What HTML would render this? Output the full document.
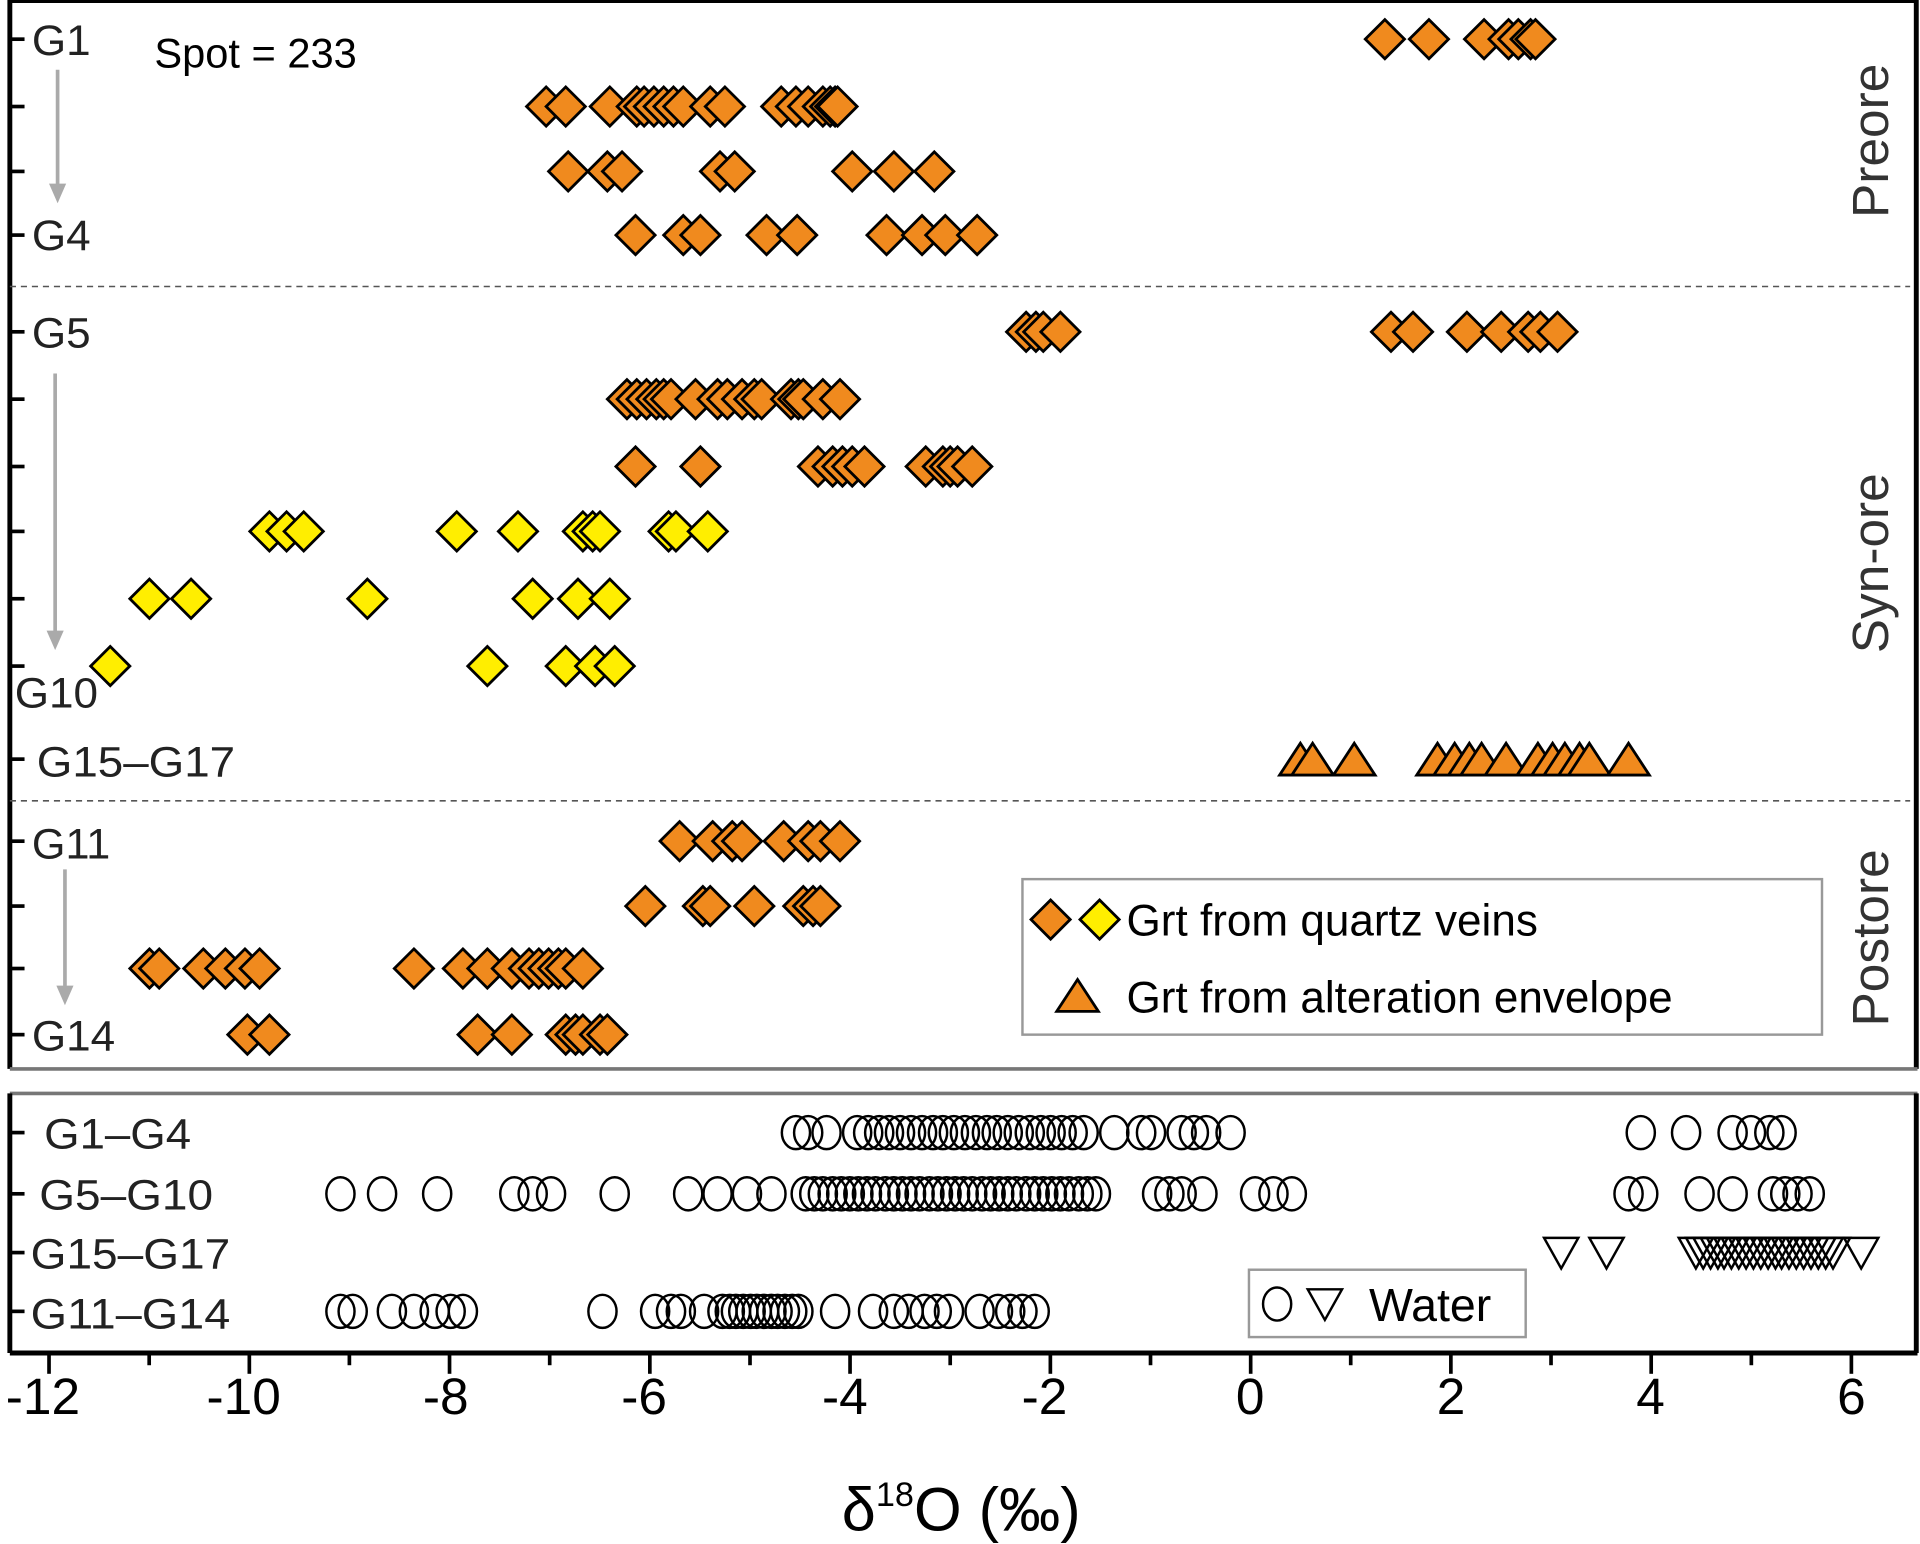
<!DOCTYPE html>
<html><head><meta charset="utf-8"><style>html,body{margin:0;padding:0;background:#fff}svg{display:block}text{font-family:"Liberation Sans",sans-serif}</style></head>
<body>
<svg width="1920" height="1544" viewBox="0 0 1568 1261" xmlns="http://www.w3.org/2000/svg" xmlns:xlink="http://www.w3.org/1999/xlink">
<defs>
<polygon id="do" points="0,-16 16,0 0,16 -16,0" fill="#f08a1e" stroke="#000" stroke-width="2.3"/>
<polygon id="dy" points="0,-16 16,0 0,16 -16,0" fill="#ffee00" stroke="#000" stroke-width="2.3"/>
<polygon id="tr" points="0,-13 17,13 -17,13" fill="#f08a1e" stroke="#000" stroke-width="2.3"/>
<ellipse id="ci" cx="0" cy="0" rx="11.5" ry="13.5" fill="none" stroke="#000" stroke-width="2"/>
<polygon id="it" points="-14,-12 14,-12 0,13" fill="none" stroke="#000" stroke-width="2"/>
</defs>
<rect width="1568" height="1261" fill="#fff"/>
<line x1="8" y1="0" x2="8" y2="873" stroke="#000" stroke-width="4"/>
<line x1="8" y1="1" x2="1566" y2="1" stroke="#000" stroke-width="3"/>
<line x1="1565" y1="0" x2="1565" y2="873" stroke="#000" stroke-width="4"/>
<line x1="8" y1="873" x2="1566" y2="873" stroke="#777" stroke-width="3"/>
<line x1="8" y1="234" x2="1560" y2="234" stroke="#555" stroke-width="1.3" stroke-dasharray="5,4"/>
<line x1="8" y1="654" x2="1560" y2="654" stroke="#555" stroke-width="1.3" stroke-dasharray="5,4"/>
<line x1="8" y1="893" x2="1566" y2="893" stroke="#777" stroke-width="3"/>
<line x1="8" y1="893" x2="8" y2="1105" stroke="#000" stroke-width="4"/>
<line x1="1565" y1="893" x2="1565" y2="1105" stroke="#000" stroke-width="4"/>
<line x1="8" y1="1105" x2="1566" y2="1105" stroke="#000" stroke-width="4"/>
<g stroke="#000" stroke-width="3">
<line x1="8" y1="32" x2="20" y2="32"/><line x1="8" y1="87" x2="20" y2="87"/><line x1="8" y1="140" x2="20" y2="140"/><line x1="8" y1="192" x2="20" y2="192"/>
<line x1="8" y1="271" x2="20" y2="271"/><line x1="8" y1="326" x2="20" y2="326"/><line x1="8" y1="381" x2="20" y2="381"/><line x1="8" y1="434" x2="20" y2="434"/>
<line x1="8" y1="489" x2="20" y2="489"/><line x1="8" y1="544" x2="20" y2="544"/><line x1="8" y1="620" x2="20" y2="620"/><line x1="8" y1="687" x2="20" y2="687"/>
<line x1="8" y1="740" x2="20" y2="740"/><line x1="8" y1="791" x2="20" y2="791"/><line x1="8" y1="845" x2="20" y2="845"/>
<line x1="8" y1="925" x2="20" y2="925"/><line x1="8" y1="975" x2="20" y2="975"/><line x1="8" y1="1023" x2="20" y2="1023"/><line x1="8" y1="1071" x2="20" y2="1071"/>
<line x1="40" y1="1105" x2="40" y2="1122"/><line x1="121.8" y1="1105" x2="121.8" y2="1115"/><line x1="203.6" y1="1105" x2="203.6" y2="1122"/><line x1="285.3" y1="1105" x2="285.3" y2="1115"/>
<line x1="367.1" y1="1105" x2="367.1" y2="1122"/><line x1="448.9" y1="1105" x2="448.9" y2="1115"/><line x1="530.7" y1="1105" x2="530.7" y2="1122"/><line x1="612.5" y1="1105" x2="612.5" y2="1115"/>
<line x1="694.2" y1="1105" x2="694.2" y2="1122"/><line x1="776" y1="1105" x2="776" y2="1115"/><line x1="857.8" y1="1105" x2="857.8" y2="1122"/><line x1="939.6" y1="1105" x2="939.6" y2="1115"/>
<line x1="1021.4" y1="1105" x2="1021.4" y2="1122"/><line x1="1103.1" y1="1105" x2="1103.1" y2="1115"/><line x1="1184.9" y1="1105" x2="1184.9" y2="1122"/><line x1="1266.7" y1="1105" x2="1266.7" y2="1115"/>
<line x1="1348.5" y1="1105" x2="1348.5" y2="1122"/><line x1="1430.3" y1="1105" x2="1430.3" y2="1115"/><line x1="1512" y1="1105" x2="1512" y2="1122"/>
</g>
<g font-size="42" text-anchor="middle" fill="#000">
<text x="35" y="1155">-12</text><text x="199" y="1155">-10</text><text x="364" y="1155">-8</text><text x="526" y="1155">-6</text>
<text x="690" y="1155">-4</text><text x="853" y="1155">-2</text><text x="1021" y="1155">0</text><text x="1185" y="1155">2</text>
<text x="1348" y="1155">4</text><text x="1512" y="1155">6</text>
</g>
<text x="785" y="1250" font-size="50" text-anchor="middle">δ<tspan font-size="28" dy="-20">18</tspan><tspan dy="20">O (‰)</tspan></text>
<g font-size="35" fill="#222">
<text x="26" y="45" textLength="48" lengthAdjust="spacingAndGlyphs">G1</text>
<text x="26" y="204" textLength="48" lengthAdjust="spacingAndGlyphs">G4</text>
<text x="26" y="284" textLength="48" lengthAdjust="spacingAndGlyphs">G5</text>
<text x="12" y="578" textLength="68" lengthAdjust="spacingAndGlyphs">G10</text>
<text x="30" y="634" textLength="162" lengthAdjust="spacingAndGlyphs">G15–G17</text>
<text x="26" y="701" textLength="64" lengthAdjust="spacingAndGlyphs">G11</text>
<text x="26" y="858" textLength="68" lengthAdjust="spacingAndGlyphs">G14</text>
<text x="36" y="938" textLength="120" lengthAdjust="spacingAndGlyphs">G1–G4</text>
<text x="32" y="988" textLength="142" lengthAdjust="spacingAndGlyphs">G5–G10</text>
<text x="25" y="1036" textLength="163" lengthAdjust="spacingAndGlyphs">G15–G17</text>
<text x="25" y="1085" textLength="163" lengthAdjust="spacingAndGlyphs">G11–G14</text>
</g>
<text x="126" y="55" font-size="34" fill="#000">Spot = 233</text>
<g fill="#333" font-size="42">
<text transform="translate(1542,115) rotate(-90)" text-anchor="middle">Preore</text>
<text transform="translate(1542,460) rotate(-90)" text-anchor="middle">Syn-ore</text>
<text transform="translate(1542,766) rotate(-90)" text-anchor="middle">Postore</text>
</g>
<g stroke="#aaa" stroke-width="3" fill="#aaa">
<line x1="47" y1="57" x2="47" y2="152"/><polygon points="40,150 54,150 47,166" stroke="none"/>
<line x1="45" y1="305" x2="45" y2="517"/><polygon points="38,515 52,515 45,531" stroke="none"/>
<line x1="53" y1="710" x2="53" y2="807"/><polygon points="46,805 60,805 53,821" stroke="none"/>
</g>
<g>
<use href="#do" x="1131" y="32"/><use href="#do" x="1167" y="32"/><use href="#do" x="1212" y="32"/><use href="#do" x="1232" y="32"/><use href="#do" x="1240" y="32"/><use href="#do" x="1250" y="32"/><use href="#do" x="1254" y="32"/>
<use href="#do" x="446" y="87"/><use href="#do" x="462" y="87"/><use href="#do" x="498" y="87"/><use href="#do" x="520" y="87"/><use href="#do" x="526" y="87"/><use href="#do" x="534" y="87"/><use href="#do" x="542" y="87"/><use href="#do" x="550" y="87"/><use href="#do" x="558" y="87"/><use href="#do" x="580" y="87"/><use href="#do" x="592" y="87"/><use href="#do" x="638" y="87"/><use href="#do" x="650" y="87"/><use href="#do" x="660" y="87"/><use href="#do" x="672" y="87"/><use href="#do" x="678" y="87"/><use href="#do" x="682" y="87"/><use href="#do" x="684" y="87"/>
<use href="#do" x="464" y="140"/><use href="#do" x="496" y="140"/><use href="#do" x="508" y="140"/><use href="#do" x="588" y="140"/><use href="#do" x="600" y="140"/><use href="#do" x="696" y="140"/><use href="#do" x="730" y="140"/><use href="#do" x="763" y="140"/>
<use href="#do" x="519" y="192"/><use href="#do" x="558" y="192"/><use href="#do" x="572" y="192"/><use href="#do" x="626" y="192"/><use href="#do" x="651" y="192"/><use href="#do" x="724" y="192"/><use href="#do" x="753" y="192"/><use href="#do" x="772" y="192"/><use href="#do" x="798" y="192"/>
<use href="#do" x="838" y="271"/><use href="#do" x="846" y="271"/><use href="#do" x="852" y="271"/><use href="#do" x="866" y="271"/><use href="#do" x="1136" y="271"/><use href="#do" x="1154" y="271"/><use href="#do" x="1198" y="271"/><use href="#do" x="1226" y="271"/><use href="#do" x="1248" y="271"/><use href="#do" x="1258" y="271"/><use href="#do" x="1272" y="271"/>
<use href="#do" x="512" y="326"/><use href="#do" x="520" y="326"/><use href="#do" x="528" y="326"/><use href="#do" x="536" y="326"/><use href="#do" x="542" y="326"/><use href="#do" x="548" y="326"/><use href="#do" x="568" y="326"/><use href="#do" x="586" y="326"/><use href="#do" x="594" y="326"/><use href="#do" x="606" y="326"/><use href="#do" x="616" y="326"/><use href="#do" x="622" y="326"/><use href="#do" x="646" y="326"/><use href="#do" x="652" y="326"/><use href="#do" x="656" y="326"/><use href="#do" x="672" y="326"/><use href="#do" x="686" y="326"/>
<use href="#do" x="519" y="381"/><use href="#do" x="572" y="381"/><use href="#do" x="668" y="381"/><use href="#do" x="680" y="381"/><use href="#do" x="688" y="381"/><use href="#do" x="696" y="381"/><use href="#do" x="706" y="381"/><use href="#do" x="756" y="381"/><use href="#do" x="770" y="381"/><use href="#do" x="776" y="381"/><use href="#do" x="782" y="381"/><use href="#do" x="794" y="381"/>
<use href="#dy" x="220" y="434"/><use href="#dy" x="234" y="434"/><use href="#dy" x="248" y="434"/><use href="#dy" x="373" y="434"/><use href="#dy" x="423" y="434"/><use href="#dy" x="476" y="434"/><use href="#dy" x="484" y="434"/><use href="#dy" x="490" y="434"/><use href="#dy" x="546" y="434"/><use href="#dy" x="552" y="434"/><use href="#dy" x="578" y="434"/>
<use href="#dy" x="122" y="489"/><use href="#dy" x="156" y="489"/><use href="#dy" x="300" y="489"/><use href="#dy" x="435" y="489"/><use href="#dy" x="472" y="489"/><use href="#dy" x="498" y="489"/>
<use href="#dy" x="90" y="544"/><use href="#dy" x="398" y="544"/><use href="#dy" x="462" y="544"/><use href="#dy" x="486" y="544"/><use href="#dy" x="502" y="544"/>
<use href="#tr" x="1062" y="620"/><use href="#tr" x="1072" y="620"/><use href="#tr" x="1106" y="620"/><use href="#tr" x="1174" y="620"/><use href="#tr" x="1188" y="620"/><use href="#tr" x="1200" y="620"/><use href="#tr" x="1210" y="620"/><use href="#tr" x="1230" y="620"/><use href="#tr" x="1256" y="620"/><use href="#tr" x="1268" y="620"/><use href="#tr" x="1278" y="620"/><use href="#tr" x="1290" y="620"/><use href="#tr" x="1298" y="620"/><use href="#tr" x="1330" y="620"/>
<use href="#do" x="555" y="687"/><use href="#do" x="582" y="687"/><use href="#do" x="598" y="687"/><use href="#do" x="606" y="687"/><use href="#do" x="640" y="687"/><use href="#do" x="660" y="687"/><use href="#do" x="670" y="687"/><use href="#do" x="686" y="687"/>
<use href="#do" x="527" y="740"/><use href="#do" x="574" y="740"/><use href="#do" x="580" y="740"/><use href="#do" x="616" y="740"/><use href="#do" x="656" y="740"/><use href="#do" x="664" y="740"/><use href="#do" x="670" y="740"/>
<use href="#do" x="122" y="791"/><use href="#do" x="130" y="791"/><use href="#do" x="166" y="791"/><use href="#do" x="184" y="791"/><use href="#do" x="200" y="791"/><use href="#do" x="212" y="791"/><use href="#do" x="338" y="791"/><use href="#do" x="378" y="791"/><use href="#do" x="398" y="791"/><use href="#do" x="418" y="791"/><use href="#do" x="432" y="791"/><use href="#do" x="440" y="791"/><use href="#do" x="448" y="791"/><use href="#do" x="456" y="791"/><use href="#do" x="462" y="791"/><use href="#do" x="476" y="791"/>
<use href="#do" x="202" y="845"/><use href="#do" x="220" y="845"/><use href="#do" x="390" y="845"/><use href="#do" x="418" y="845"/><use href="#do" x="462" y="845"/><use href="#do" x="470" y="845"/><use href="#do" x="476" y="845"/><use href="#do" x="490" y="845"/><use href="#do" x="496" y="845"/>
</g>
<g>
<use href="#ci" x="650" y="925"/><use href="#ci" x="660" y="925"/><use href="#ci" x="675" y="925"/><use href="#ci" x="700" y="925"/><use href="#ci" x="709" y="925"/><use href="#ci" x="718" y="925"/><use href="#ci" x="726" y="925"/><use href="#ci" x="735" y="925"/><use href="#ci" x="744" y="925"/><use href="#ci" x="753" y="925"/><use href="#ci" x="762" y="925"/><use href="#ci" x="770" y="925"/><use href="#ci" x="779" y="925"/><use href="#ci" x="788" y="925"/><use href="#ci" x="797" y="925"/><use href="#ci" x="806" y="925"/><use href="#ci" x="814" y="925"/><use href="#ci" x="823" y="925"/><use href="#ci" x="832" y="925"/><use href="#ci" x="841" y="925"/><use href="#ci" x="850" y="925"/><use href="#ci" x="858" y="925"/><use href="#ci" x="867" y="925"/><use href="#ci" x="876" y="925"/><use href="#ci" x="885" y="925"/><use href="#ci" x="910" y="925"/><use href="#ci" x="932" y="925"/><use href="#ci" x="940" y="925"/><use href="#ci" x="965" y="925"/><use href="#ci" x="975" y="925"/><use href="#ci" x="985" y="925"/><use href="#ci" x="1005" y="925"/><use href="#ci" x="1340" y="925"/><use href="#ci" x="1377" y="925"/><use href="#ci" x="1415" y="925"/><use href="#ci" x="1430" y="925"/><use href="#ci" x="1445" y="925"/><use href="#ci" x="1455" y="925"/>
<use href="#ci" x="278" y="975"/><use href="#ci" x="312" y="975"/><use href="#ci" x="357" y="975"/><use href="#ci" x="420" y="975"/><use href="#ci" x="435" y="975"/><use href="#ci" x="450" y="975"/><use href="#ci" x="502" y="975"/><use href="#ci" x="562" y="975"/><use href="#ci" x="586" y="975"/><use href="#ci" x="610" y="975"/><use href="#ci" x="630" y="975"/>
<use href="#ci" x="658" y="975"/><use href="#ci" x="665" y="975"/><use href="#ci" x="672" y="975"/><use href="#ci" x="680" y="975"/><use href="#ci" x="687" y="975"/><use href="#ci" x="694" y="975"/><use href="#ci" x="701" y="975"/><use href="#ci" x="708" y="975"/><use href="#ci" x="715" y="975"/><use href="#ci" x="723" y="975"/><use href="#ci" x="730" y="975"/><use href="#ci" x="737" y="975"/><use href="#ci" x="744" y="975"/><use href="#ci" x="751" y="975"/><use href="#ci" x="759" y="975"/><use href="#ci" x="766" y="975"/><use href="#ci" x="773" y="975"/><use href="#ci" x="780" y="975"/><use href="#ci" x="787" y="975"/><use href="#ci" x="794" y="975"/><use href="#ci" x="802" y="975"/><use href="#ci" x="809" y="975"/><use href="#ci" x="816" y="975"/><use href="#ci" x="823" y="975"/><use href="#ci" x="830" y="975"/><use href="#ci" x="838" y="975"/><use href="#ci" x="845" y="975"/><use href="#ci" x="852" y="975"/><use href="#ci" x="859" y="975"/><use href="#ci" x="866" y="975"/><use href="#ci" x="873" y="975"/><use href="#ci" x="881" y="975"/><use href="#ci" x="888" y="975"/><use href="#ci" x="895" y="975"/>
<use href="#ci" x="945" y="975"/><use href="#ci" x="955" y="975"/><use href="#ci" x="965" y="975"/><use href="#ci" x="982" y="975"/><use href="#ci" x="1025" y="975"/><use href="#ci" x="1040" y="975"/><use href="#ci" x="1055" y="975"/><use href="#ci" x="1330" y="975"/><use href="#ci" x="1342" y="975"/><use href="#ci" x="1388" y="975"/><use href="#ci" x="1415" y="975"/><use href="#ci" x="1448" y="975"/><use href="#ci" x="1458" y="975"/><use href="#ci" x="1468" y="975"/><use href="#ci" x="1478" y="975"/>
<use href="#it" x="1275" y="1023"/><use href="#it" x="1312" y="1023"/><use href="#it" x="1385" y="1023"/><use href="#it" x="1391" y="1023"/><use href="#it" x="1397" y="1023"/><use href="#it" x="1403" y="1023"/><use href="#it" x="1408" y="1023"/><use href="#it" x="1414" y="1023"/><use href="#it" x="1420" y="1023"/><use href="#it" x="1426" y="1023"/><use href="#it" x="1432" y="1023"/><use href="#it" x="1438" y="1023"/><use href="#it" x="1444" y="1023"/><use href="#it" x="1450" y="1023"/><use href="#it" x="1455" y="1023"/><use href="#it" x="1461" y="1023"/><use href="#it" x="1467" y="1023"/><use href="#it" x="1473" y="1023"/><use href="#it" x="1479" y="1023"/><use href="#it" x="1485" y="1023"/><use href="#it" x="1491" y="1023"/><use href="#it" x="1497" y="1023"/><use href="#it" x="1520" y="1023"/>
<use href="#ci" x="278" y="1071"/><use href="#ci" x="288" y="1071"/><use href="#ci" x="320" y="1071"/><use href="#ci" x="338" y="1071"/><use href="#ci" x="355" y="1071"/><use href="#ci" x="368" y="1071"/><use href="#ci" x="378" y="1071"/><use href="#ci" x="492" y="1071"/><use href="#ci" x="535" y="1071"/><use href="#ci" x="548" y="1071"/><use href="#ci" x="556" y="1071"/><use href="#ci" x="575" y="1071"/><use href="#ci" x="590" y="1071"/><use href="#ci" x="596" y="1071"/><use href="#ci" x="601" y="1071"/><use href="#ci" x="607" y="1071"/><use href="#ci" x="613" y="1071"/><use href="#ci" x="618" y="1071"/><use href="#ci" x="624" y="1071"/><use href="#ci" x="630" y="1071"/><use href="#ci" x="635" y="1071"/><use href="#ci" x="641" y="1071"/><use href="#ci" x="647" y="1071"/><use href="#ci" x="652" y="1071"/><use href="#ci" x="682" y="1071"/><use href="#ci" x="713" y="1071"/><use href="#ci" x="730" y="1071"/><use href="#ci" x="742" y="1071"/><use href="#ci" x="755" y="1071"/><use href="#ci" x="765" y="1071"/><use href="#ci" x="775" y="1071"/><use href="#ci" x="800" y="1071"/><use href="#ci" x="815" y="1071"/><use href="#ci" x="825" y="1071"/><use href="#ci" x="835" y="1071"/><use href="#ci" x="845" y="1071"/>
</g>
<rect x="835" y="718" width="653" height="127" fill="#fff" stroke="#999" stroke-width="2"/>
<use href="#do" x="858" y="751"/><use href="#dy" x="898" y="751"/><use href="#tr" x="880" y="813"/>
<text x="920" y="764" font-size="36">Grt from quartz veins</text>
<text x="920" y="827" font-size="36">Grt from alteration envelope</text>
<rect x="1020" y="1037" width="226" height="55" fill="#fff" stroke="#999" stroke-width="2"/>
<use href="#ci" x="1043" y="1065"/><use href="#it" x="1082" y="1065"/>
<text x="1118" y="1079" font-size="38">Water</text>
</svg>
</body></html>
